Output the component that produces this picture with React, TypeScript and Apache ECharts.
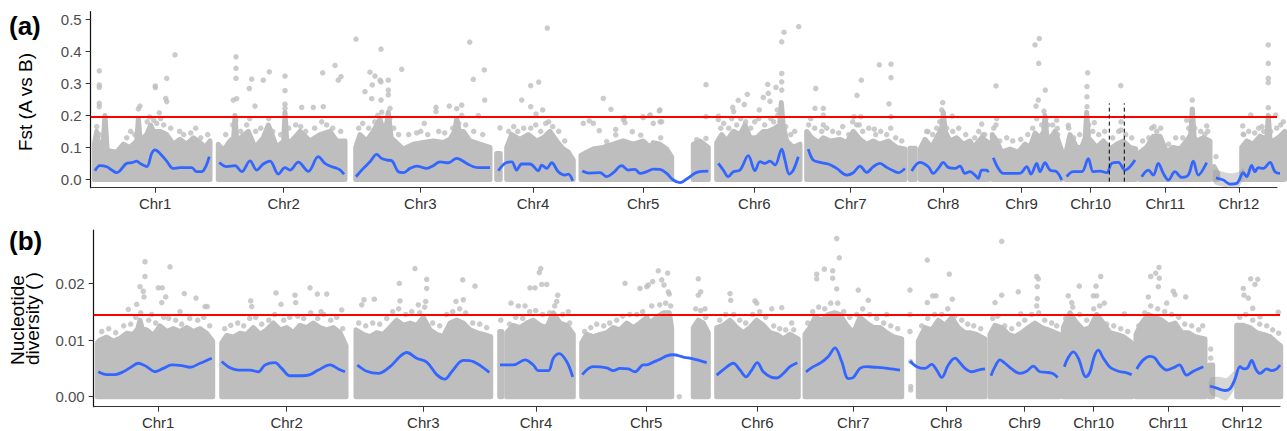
import React, { useEffect, useRef } from "react";
import * as echarts from "echarts";

// ---------- categories / ticks ----------
const chromosomes = ["Chr1", "Chr2", "Chr3", "Chr4", "Chr5", "Chr6", "Chr7", "Chr8", "Chr9", "Chr10", "Chr11", "Chr12"];
const chrMid = [64.5, 193, 329.6, 442.3, 552.5, 663.6, 759.6, 852.5, 930.8, 1000, 1074.6, 1148.3];
const fstTicks = [0, 0.1, 0.2, 0.3, 0.4, 0.5];
const piTicks = [0, 0.01, 0.02];
const fstThreshold = 0.1956;
const piThreshold = 0.01454;
const regionX = [1018.6, 1033.6];
const regionFst = [-0.007, 0.2375];

// ---------- (a) Fst: dense point clouds (upper edge of the solid part, per segment) ----------
const fstBands: number[][][] = [
  [[3.6,0.11],[6,0.15],[8,0.11],[12,0.09],[14.3,0.2],[16.5,0.09],[26,0.085],[32.7,0.11],[39.3,0.1],[46,0.12],[47.7,0.19],[49.5,0.12],[56,0.14],[60,0.17],[62.7,0.15],[69.3,0.15],[76,0.14],[82.7,0.11],[89.3,0.125],[96,0.11],[102.7,0.13],[109.3,0.115],[114.3,0.1],[119.3,0.12]],
  [[127.6,0.11],[132.6,0.09],[139.3,0.12],[143,0.13],[144.3,0.2],[146,0.12],[157.6,0.15],[164.3,0.1],[172.6,0.13],[177.6,0.17],[186,0.1],[193,0.12],[194.3,0.21],[196,0.12],[201,0.12],[209.3,0.15],[219.3,0.12],[229.3,0.14],[239.3,0.15],[246,0.12],[254.3,0.12]],
  [[265,0.1],[269.3,0.14],[276,0.12],[282.6,0.15],[289.3,0.19],[294.3,0.13],[297.6,0.21],[300.5,0.13],[312.6,0.095],[322.6,0.11],[332.6,0.115],[342.6,0.12],[352.6,0.115],[359.3,0.125],[364,0.15],[366,0.19],[368.5,0.15],[372.6,0.15],[379.3,0.12],[389.3,0.11],[399.3,0.1]],
  [[406,0.081],[409.5,0.081]],
  [[416,0.1],[421,0.14],[429.3,0.125],[437.6,0.14],[446,0.12],[452.6,0.13],[459.3,0.15],[466,0.12],[472.6,0.095],[477.6,0.085],[482.6,0.06]],
  [[490.3,0.075],[496,0.085],[502.6,0.095],[512.6,0.1],[522.6,0.11],[532.6,0.12],[542.6,0.11],[552.6,0.12],[559.3,0.1],[562.6,0.115],[569.3,0.11],[576,0.095],[581,0.07]],
  [[602.6,0.11],[609.3,0.12],[617.6,0.1]],
  [[626,0.115],[631,0.14],[636,0.12],[642.6,0.15],[649.3,0.14],[654.3,0.17],[659.3,0.13],[666,0.13],[672.6,0.15],[677.6,0.15],[684.3,0.16],[689,0.17],[690.6,0.24],[692.5,0.17],[696,0.12],[702.6,0.1],[709.3,0.11]],
  [[716,0.15],[721,0.13],[728,0.115],[732.6,0.13],[739.3,0.12],[749.3,0.125],[756,0.115],[762.6,0.15],[769.3,0.125],[776,0.11],[782.6,0.12],[789.3,0.11],[797.6,0.12],[806,0.1],[814.3,0.095]],
  [[819.3,0.097],[824.5,0.097]],
  [[829.5,0.095],[834.3,0.125],[841,0.1],[847.6,0.14],[851,0.16],[852.6,0.21],[854.5,0.15],[859.3,0.12],[866,0.13],[872.6,0.11],[879.3,0.12],[882.6,0.1],[891,0.13],[897.6,0.115]],
  [[901.6,0.14],[906,0.12],[911,0.085],[919.3,0.095],[927.6,0.085],[934.3,0.11],[939.3,0.1],[944.3,0.145],[949.3,0.13],[953,0.15],[954.3,0.2],[956,0.14],[959.3,0.125],[964.3,0.15],[971,0.09]],
  [[975.3,0.085],[979.3,0.14],[986,0.1],[991,0.1],[994.5,0.13],[996,0.21],[997.8,0.13],[1006,0.1],[1012.6,0.12],[1019.3,0.095],[1026,0.11],[1032.6,0.12],[1039.3,0.1],[1045,0.095]],
  [[1049.3,0.085],[1056,0.1],[1062.6,0.135],[1069.3,0.135],[1076,0.085],[1082.6,0.1],[1089.3,0.095],[1096,0.12],[1100,0.14],[1101.6,0.22],[1103.5,0.13],[1106,0.12],[1112.6,0.13],[1119.3,0.12]],
  [[1123.3,0.04],[1127,0.019]],
  [[1151,0.1],[1156,0.12],[1162.6,0.11],[1169.3,0.135],[1176,0.125],[1177.6,0.2],[1179.3,0.125],[1182.6,0.12],[1189.3,0.135],[1194,0.15]],
];

// scattered points just above the solid part
const fstScatter: number[][] = [
  [6,0.165],[9,0.14],[14.3,0.175],[36,0.13],[40,0.15],[44,0.14],[56.5,0.18],[59,0.195],[63,0.185],[66,0.175],[70,0.19],[73,0.17],[80,0.16],[89,0.15],[93,0.14],[100,0.145],[105,0.16],[110,0.13],[117,0.14],
  [135,0.14],[142,0.17],[145,0.185],[150,0.15],[156,0.17],[159,0.19],[165,0.15],[170,0.16],[178,0.19],[182,0.15],[190,0.14],[198,0.16],[205,0.17],[210,0.165],[215,0.15],[224,0.16],[231,0.18],[236,0.17],[242,0.16],[250,0.15],
  [268,0.16],[272,0.175],[278,0.16],[284,0.18],[287,0.2],[291,0.21],[295,0.17],[299,0.19],[303,0.16],[308,0.14],[318,0.14],[326,0.145],[330,0.15],[337,0.14],[348,0.15],[354,0.145],[362,0.16],[368,0.175],[371,0.2],[375,0.17],[383,0.15],[392,0.14],
  [418,0.15],[423,0.165],[427,0.15],[433,0.16],[440,0.16],[445,0.17],[450,0.15],[455,0.175],[458,0.18],[462,0.165],[468,0.15],[474,0.12],
  [492.6,0.175],[498.6,0.183],[502.6,0.175],[508.6,0.152],[516,0.118],[525,0.156],[525,0.139],[532.6,0.187],[534.3,0.177],[541.6,0.149],[550,0.138],[552.6,0.193],[559.3,0.2],[562.6,0.175],[568.6,0.214],[571,0.18],[570,0.13],[606,0.124],[615.3,0.128],
  [627.6,0.187],[630,0.16],[633,0.175],[638,0.16],[641,0.19],[646,0.17],[650,0.19],[655,0.18],[660,0.16],[664,0.18],[668,0.19],[674,0.17],[680,0.19],[683,0.18],[687,0.2],[690,0.21],[695,0.165],[700,0.14],[704,0.15],
  [718,0.17],[720,0.19],[724,0.16],[731,0.15],[736,0.16],[742,0.15],[748,0.145],[752,0.165],[758,0.14],[762,0.18],[766,0.17],[772,0.15],[778,0.16],[785,0.14],[790,0.15],[796,0.14],[800,0.16],[805,0.13],[811,0.12],
  [836,0.15],[842,0.14],[846,0.16],[849,0.18],[856,0.16],[862,0.15],[868,0.16],[875,0.14],[884,0.13],[888,0.15],[894,0.14],
  [903,0.16],[909,0.12],[916,0.13],[922,0.12],[930,0.125],[937,0.14],[942,0.16],[946,0.19],[951,0.17],[957,0.17],[962,0.17],[967,0.14],
  [978,0.16],[983,0.13],[989,0.14],[998,0.17],[1002,0.15],[1008,0.14],[1014,0.15],[1022,0.13],[1028,0.15],[1035,0.14],[1041,0.13],
  [1052,0.12],[1058,0.13],[1061,0.16],[1066,0.15],[1070,0.16],[1078,0.11],[1085,0.13],[1092,0.13],[1098,0.16],[1104,0.16],[1110,0.15],[1114,0.14],[1117,0.15],
  [1153,0.14],[1158,0.15],[1164,0.145],[1168,0.16],[1173,0.15],[1180,0.15],[1186,0.16],[1190,0.17],
];

const fstOutliers: number[][] = [
  [8.6,0.339],[8.6,0.295],[8.6,0.2875],[8.6,0.2375],[8.6,0.227],[84.3,0.389],[64.6,0.292],[64.6,0.287],[76,0.316],[75,0.253],[76,0.243],[49.3,0.229],[68.6,0.208],[47.7,0.22],
  [145.3,0.383],[145.3,0.347],[145.3,0.316],[142.6,0.248],[146,0.252],[161,0.313],[158.6,0.284],[164.3,0.229],[172.6,0.31],[178.6,0.336],[194.3,0.323],[194.3,0.277],[194.3,0.235],[194.3,0.222],[211,0.225],[222.6,0.225],[232,0.333],[232.6,0.227],[244.3,0.356],[247.6,0.31],[250.3,0.321],
  [265.3,0.4385],[274.3,0.274],[279.3,0.335],[281.6,0.295],[284.3,0.323],[290.3,0.407],[289.3,0.31],[290.3,0.305],[281,0.252],[297.6,0.31],[297.6,0.279],[297.6,0.264],[290.3,0.248],[299.3,0.222],[311,0.344],[333.6,0.175],[345.3,0.225],[345.3,0.212],[358.6,0.229],[366,0.221],[371,0.232],[379,0.429],[382.6,0.3125],[387.6,0.199],[393.6,0.342],[394,0.248],
  [409.3,0.161],[431,0.248],[440,0.293],[440,0.227],[448,0.304],[456.6,0.473],[452,0.217],[445.3,0.204],
  [512.6,0.253],[520.3,0.219],[533.6,0.193],[552,0.196],[559.3,0.201],[569.3,0.217],[569.3,0.18],[615.3,0.296],[615.3,0.196],
  [627.6,0.198],[642,0.225],[643,0.212],[647.6,0.247],[653.6,0.234],[656.6,0.266],[668.6,0.217],[672.6,0.256],[677,0.297],[677.6,0.269],[679.3,0.244],[685.3,0.2875],[686.6,0.217],[691,0.43],[693.3,0.46],[708,0.477],[691,0.331],[691,0.305],[691,0.279],
  [725,0.284],[724.3,0.222],[732.6,0.222],[732.6,0.201],[732.6,0.17],[766.3,0.2625],[770.6,0.31],[763.3,0.196],[770,0.196],[768.6,0.17],[783.6,0.157],[788.6,0.358],[800.3,0.36],[800.3,0.318],[798.3,0.236],[800.3,0.196],
  [852,0.24],[851,0.217],[837.3,0.149],[861.6,0.198],[891,0.173],[892,0.139],
  [905.3,0.292],[906,0.19],[905.3,0.17],[944.3,0.42],[948.6,0.44],[948,0.3625],[945.3,0.229],[947.6,0.248],[954.6,0.279],[953.3,0.2135],[955.3,0.19],[966,0.185],[966.6,0.159],
  [997,0.333],[996.3,0.29],[996.3,0.258],[996.3,0.227],[1003.6,0.177],[1030,0.293],[1030.3,0.18],[1030.3,0.154],[977.6,0.169],
  [1101.6,0.248],[1101.6,0.217],[1101.6,0.19],[1096,0.185],[1116,0.167],[1063.3,0.165],
  [1125.3,0.071],[1152,0.167],[1152.6,0.141],[1160,0.201],[1171.3,0.165],[1177.6,0.42],[1177.6,0.3625],[1177.6,0.316],[1177.6,0.302],[1177.6,0.224],[1185,0.201],[1192.6,0.18],
];

const fstSmooth: number[][][] = [
  [[4.3,0.027],[9.3,0.0427],[16,0.0396],[21,0.0292],[26,0.021],[29.3,0.0271],[36,0.05],[41,0.052],[46,0.057],[49.3,0.05],[56,0.04],[61,0.081],[64.3,0.092],[69.3,0.081],[76,0.057],[82.6,0.0344],[89.3,0.0365],[101,0.0365],[106,0.024],[111,0.024],[115.3,0.0417],[118.6,0.0708]],
  [[128.6,0.053],[136,0.04],[144.3,0.0427],[151,0.024],[159.3,0.058],[166,0.0292],[172.6,0.048],[179.3,0.057],[187.6,0.0167],[194.3,0.0365],[199.3,0.0292],[207.6,0.0542],[217.6,0.025],[227.6,0.0708],[234.3,0.05],[239.3,0.0417],[245,0.036],[249.3,0.03],[253.3,0.016]],
  [[265.3,0.0083],[272.6,0.0344],[279.3,0.055],[286,0.0781],[291,0.0656],[296,0.0604],[301,0.0583],[307.6,0.024],[312.6,0.021],[319.3,0.0344],[326,0.0417],[336,0.0344],[342.6,0.0427],[349.3,0.055],[357.6,0.052],[366,0.0656],[376,0.05],[382.6,0.0396],[389.3,0.0365],[399.3,0.0365]],
  [[407.6,0.027],[414.3,0.05],[421,0.055],[426,0.0292],[431,0.048],[439.3,0.048],[447.6,0.027],[451,0.0448],[456,0.0344],[461,0.052],[467.6,0.024],[474.3,0.0135],[477.6,0.0167],[482,-0.004]],
  [[491.6,0.026],[497.6,0.0198],[509.3,0.0208],[516,0.0083],[522.6,0.0208],[531,0.0427],[537.6,0.0292],[544.3,0.0313],[549.3,0.0188],[556,0.024],[562.6,0.0323],[569.3,0.031],[576,0.0188],[582.6,-0.002],[589.3,-0.0104],[596,0.001],[606,0.0219],[617.6,0.026]],
  [[627.6,0.05],[632.6,0.0292],[637.6,0.0083],[642.6,0.024],[649.3,0.0292],[657.6,0.074],[664.3,0.0271],[669.3,0.0552],[674.3,0.05],[679.3,0.0573],[684.3,0.0448],[691,0.0948],[694.3,0.06],[698.6,0.0167],[702.6,0.0292],[707.6,0.0708]],
  [[717.6,0.0948],[722.6,0.06],[729.3,0.0531],[737.6,0.048],[746,0.0344],[756,0.0135],[762.6,0.0208],[769.3,0.0417],[776,0.0219],[782.6,0.0396],[789.3,0.05],[796,0.0375],[802.6,0.0271],[807.6,0.0208],[814.3,0.0344]],
  [[821,0.026],[829.3,0.053],[837.6,0.0396],[842.6,0.0188],[847.6,0.0344],[852.6,0.053],[857.6,0.0375],[864.3,0.0344],[869.3,0.0417],[874.3,0.0188],[879.3,0.024],[884.3,0.0135],[887.6,0.003],[891,0.0292],[896,0.0292],[897.6,0.022]],
  [[902.6,0.0677],[907.6,0.0344],[912.6,0.0188],[919.3,0.0188],[929.3,0.0188],[936,0.0396],[940.3,0.0167],[946,0.05],[949.3,0.024],[954.3,0.052],[959.3,0.0292],[966,0.024],[971,-0.002]],
  [[976,0.0083],[982.6,0.024],[991,0.024],[997.6,0.0646],[1002.6,0.024],[1009.3,0.026],[1016,0.0208],[1021,0.0498],[1027.6,0.0531],[1034.3,0.0292],[1039.3,0.0396],[1044.3,0.0604]],
  [[1051,0.0083],[1057.6,0.0292],[1062.6,0.0135],[1067.6,0.05],[1072.6,0.0188],[1077.6,-0.002],[1084.3,0.024],[1091,0.0063],[1097.6,0.0135],[1102.6,0.0573],[1107.6,0.0135],[1116,0.052]],
  [[1125.3,0.005],[1132.6,-0.002],[1139.3,-0.0146],[1146,-0.0125],[1152.6,0.0208],[1156,0.0083],[1161,0.0438],[1164.3,0.024],[1167.6,0.0365],[1172.6,0.0344],[1179.3,0.0531],[1184.3,0.024],[1189.3,0.0188],[1192,0.0396],[1194,0.131]],
];
const fstCiUpper = [[1123.3,0.03],[1132,0.024],[1140,0.019],[1148,0.024],[1153,0.035]];
const fstCiLower = [[1123.3,-0.012],[1132,-0.022],[1140,-0.026],[1148,-0.024],[1153,0.008]];

// ---------- (b) nucleotide diversity ----------
const piBands: number[][][] = [
  [[3.6,0.0095],[6.3,0.01],[13,0.0105],[19.6,0.0098],[26.3,0.0103],[33,0.0112],[39.6,0.011],[44,0.012],[46.3,0.0135],[48.5,0.012],[53,0.0118],[59.6,0.0108],[66.3,0.0125],[73,0.0115],[79.6,0.012],[86.3,0.0115],[93,0.0122],[99.6,0.0115],[106.3,0.012],[113,0.0112],[119,0.0098]],
  [[128,0.0095],[133,0.0108],[139.6,0.0105],[146.3,0.0112],[153,0.011],[159.6,0.0122],[166.3,0.011],[173,0.0118],[179.6,0.013],[186.3,0.0118],[193,0.0122],[199.6,0.0113],[206.3,0.0126],[213,0.0122],[219.6,0.013],[226.3,0.0122],[233,0.0118],[239.6,0.0122],[246.3,0.0113],[252.3,0.009]],
  [[262.3,0.0118],[269.6,0.011],[276.3,0.0106],[283,0.0113],[289.6,0.011],[296.3,0.0122],[303,0.0135],[309.6,0.0126],[316.3,0.013],[323,0.0126],[329.6,0.014],[336.3,0.0118],[343,0.011],[349.6,0.0106],[356.3,0.013],[363,0.0135],[369.6,0.013],[376.3,0.0118],[383,0.0113],[389.6,0.011],[397,0.0106]],
  [[406,0.0115],[408,0.0115]],
  [[413,0.0113],[419.6,0.0126],[426.3,0.0122],[433,0.013],[439.6,0.0135],[446.3,0.0126],[453,0.0122],[459.6,0.0148],[466.3,0.013],[473,0.0126],[479.6,0.011]],
  [[488,0.0095],[493,0.011],[499.6,0.0106],[506.3,0.011],[513,0.0113],[519.6,0.0122],[526.3,0.0118],[533,0.013],[539.6,0.0122],[546.3,0.013],[553,0.014],[556.3,0.013],[563,0.014],[569.6,0.0148],[575.6,0.0148],[578,0.0122]],
  [[599.6,0.0122],[604.6,0.0135],[609.6,0.013],[614.6,0.0113]],
  [[623,0.0122],[629.6,0.0126],[636.3,0.0135],[643,0.0122],[649.6,0.0113],[656.3,0.0122],[663,0.0135],[669.6,0.0126],[676.3,0.0113],[683,0.011],[689.6,0.0102],[696.3,0.011],[704.6,0.0102]],
  [[711.3,0.011],[716.3,0.0122],[721.3,0.014],[728,0.0135],[734.6,0.0145],[741.3,0.0148],[746.3,0.0145],[753,0.0126],[759.6,0.0113],[766.3,0.014],[773,0.013],[779.6,0.0122],[786.3,0.0122],[793,0.0113],[799.6,0.0106],[808,0.0102]],
  [[824.6,0.0098],[831.3,0.0122],[838,0.0118],[844.6,0.0135],[851.3,0.0126],[858,0.014],[864.6,0.0122],[871.3,0.0113],[876.3,0.0113],[883,0.011],[891.3,0.0102]],
  [[896.3,0.011],[901.3,0.0126],[908,0.0122],[914.6,0.011],[921.3,0.0106],[928,0.0113],[934.6,0.0122],[941.3,0.013],[948,0.0122],[954.6,0.0118],[961.3,0.0113],[965.6,0.011]],
  [[969.6,0.0122],[976.3,0.0148],[983,0.013],[989.6,0.0118],[996.3,0.0122],[1003,0.0145],[1009.6,0.013],[1016.3,0.0113],[1023,0.011],[1029.6,0.0106],[1038,0.0095]],
  [[1042.3,0.011],[1048,0.013],[1054.6,0.0145],[1061.3,0.014],[1068,0.0135],[1074.6,0.0126],[1081.3,0.013],[1088,0.0113],[1094.6,0.0113],[1101.3,0.0106],[1111.3,0.0102]],
  [[1115.6,0.0056],[1119,0.0056]],
  [[1143,0.0126],[1149.6,0.0126],[1156.3,0.0122],[1163,0.0113],[1169.6,0.011],[1176.3,0.0106],[1183,0.0095],[1187,0.009]],
];

const piScatter: number[][] = [
  [8,0.0115],[15,0.012],[22,0.0113],[30,0.0125],[37,0.0128],[42,0.014],[47,0.0148],[55,0.0135],[58,0.0145],[62,0.013],[70,0.014],[75,0.0138],[82,0.0135],[88,0.0128],[96,0.0138],[104,0.0135],[110,0.014],[116,0.0125],
  [131,0.012],[137,0.0126],[144,0.013],[150,0.0125],[156,0.0138],[162,0.014],[168,0.0128],[175,0.0135],[181,0.0145],[190,0.0135],[196,0.014],[204,0.0142],[210,0.0138],[217,0.0148],[224,0.0138],[230,0.0145],[237,0.0135],[243,0.014],[249,0.012],
  [265,0.013],[272,0.0125],[279,0.013],[286,0.0128],[293,0.0138],[299,0.015],[305,0.0155],[312,0.0145],[318,0.015],[326,0.0148],[331,0.0158],[339,0.013],[346,0.0125],[353,0.0145],[359,0.015],[366,0.0155],[372,0.0148],[379,0.013],[386,0.0128],[393,0.0122],
  [407,0.0135],[416,0.0128],[422,0.014],[429,0.0138],[436,0.015],[442,0.0152],[449,0.0145],[456,0.0148],[461,0.016],[463,0.0168],[469,0.0145],[476,0.013],
  [491,0.0115],[497,0.0122],[503,0.0128],[510,0.0125],[516,0.013],[523,0.0135],[529,0.0142],[536,0.0145],[543,0.0145],[549,0.015],[558,0.016],[566,0.0162],[572,0.0165],[577,0.016],[602,0.0155],[607,0.0152],[612,0.014],
  [626,0.0135],[632,0.0145],[640,0.0145],[646,0.0135],[652,0.013],[659,0.0145],[666,0.015],[672,0.014],[680,0.0125],[686,0.012],[692,0.0118],[700,0.0118],
  [714,0.013],[719,0.015],[725,0.0158],[731,0.0155],[737,0.0165],[744,0.0165],[750,0.015],[756,0.014],[763,0.0145],[769,0.0155],[776,0.0145],[783,0.0138],[790,0.013],[797,0.0125],[804,0.012],
  [828,0.0125],[834,0.0138],[841,0.0145],[848,0.0145],[854,0.0155],[861,0.0142],[868,0.0135],[874,0.0128],[880,0.0125],[887,0.012],
  [899,0.0138],[904,0.0142],[911,0.0125],[918,0.012],[925,0.0128],[931,0.0135],[938,0.0145],[945,0.0148],[951,0.0135],[958,0.013],[963,0.0125],
  [972,0.0138],[979,0.0158],[986,0.0145],[993,0.0135],[1000,0.0155],[1006,0.016],[1013,0.0128],[1020,0.0125],[1027,0.012],[1034,0.0115],
  [1045,0.0125],[1051,0.0148],[1057,0.016],[1064,0.0155],[1071,0.015],[1078,0.0145],[1085,0.014],[1091,0.0128],[1098,0.0125],[1105,0.0118],[1109,0.0125],
  [1146,0.014],[1152,0.0145],[1159,0.0135],[1166,0.0128],[1173,0.0125],[1179,0.0118],[1185,0.0112],
];

const piOutliers: number[][] = [
  [51.3,0.0238],[51.3,0.0212],[46.3,0.0194],[49.6,0.0186],[50.3,0.0176],[76.3,0.0229],[64.6,0.0192],[68.6,0.0192],[68,0.0166],[72,0.0176],[90.6,0.0182],[102.3,0.0174],[43,0.0163],[34.6,0.0154],[86.3,0.015],[111.3,0.0159],[113.6,0.0159],
  [157,0.0169],[158,0.0159],[182.3,0.0183],[187.3,0.0163],[201.3,0.0179],[202,0.0166],[216.3,0.0192],[223.6,0.0181],[233,0.0181],[227.3,0.015],[248,0.0153],
  [321.3,0.0226],[333,0.0207],[333,0.0191],[305.6,0.02],[306.3,0.0169],[280.6,0.0172],[268,0.0162],[270.3,0.0171],[324.6,0.0162],[369,0.0206],[381.3,0.0195],[369.6,0.0171],[362.3,0.0168],[332,0.0168],
  [447,0.0226],[445.6,0.0219],[436.3,0.0192],[441.3,0.0192],[448,0.0198],[453,0.0198],[417.3,0.0165],[424.6,0.016],[431.3,0.016],[464,0.0179],[474.6,0.015],
  [564.6,0.0222],[574,0.0218],[568,0.0206],[570.3,0.0197],[559,0.0203],[553,0.0194],[574.6,0.0185],[575.6,0.0181],[585.6,0.0],[604.6,0.0208],[607,0.0185],[604.6,0.0179],[611.3,0.0155],[531.3,0.02],[546.3,0.0191],[554.6,0.0197],
  [636.3,0.0182],[637,0.017],[661.3,0.0169],[663,0.0165],[678,0.0155],[688,0.0157],[698,0.013],
  [743,0.0279],[745.6,0.0245],[730.6,0.0225],[723,0.0216],[723,0.0208],[739,0.0222],[739,0.0209],[743,0.019],[764.6,0.0188],[774.6,0.017],[793,0.0145],
  [816.3,0.0188],[816.3,0.0145],[816.3,0.0115],[817,0.0062],[817,0.0018],[817,0.0012],[833.6,0.0241],[855.6,0.0216],[839,0.0178],[842.3,0.0178],[833.6,0.0166],[858.6,0.0172],
  [908,0.0274],[908,0.0179],[901.3,0.0166],[924.6,0.0185],[943,0.0212],[944.6,0.0208],[943.6,0.0194],[943.6,0.0173],[927,0.0146],[943,0.016],
  [1007,0.0212],[1002.3,0.0195],[985.6,0.0195],[974.6,0.0178],[978,0.0166],[1010.6,0.0165],[1030.6,0.0146],[1003,0.0178],[999.6,0.0178],
  [1065.3,0.0228],[1057,0.0212],[1062,0.0218],[1065.6,0.0209],[1064.6,0.0194],[1079.6,0.0186],[1081.3,0.018],[1092,0.0176],[1054.6,0.0176],[1073,0.0165],
  [1117,0.0084],[1117,0.0068],[1149.6,0.0191],[1150.3,0.0179],[1157,0.0208],[1161.3,0.0198],[1164,0.0207],[1154.6,0.0174],[1159,0.0156],[1184.6,0.0149],[1166.3,0.0141],
];

const piSmooth: number[][][] = [
  [[4.6,0.0044],[13,0.0039],[21.3,0.0039],[29.6,0.0044],[38,0.0053],[44.6,0.0059],[53,0.0053],[61.3,0.0044],[69.6,0.005],[78,0.0056],[88,0.0055],[96.3,0.0052],[106.3,0.0059],[118,0.0068]],
  [[128,0.0062],[136.3,0.0051],[144.6,0.0047],[156.3,0.0047],[164.6,0.0044],[171.3,0.0056],[181.3,0.006],[188,0.005],[196.3,0.0037],[208,0.0037],[216.3,0.0039],[224.6,0.0047],[236.3,0.0056],[244.6,0.0049],[251.3,0.0044]],
  [[263.6,0.0056],[273,0.0045],[284.6,0.0041],[296.3,0.0053],[306.3,0.0071],[313,0.0078],[323,0.0068],[333,0.0061],[343,0.0039],[351.3,0.0031],[358,0.0044],[369.6,0.0064],[379.6,0.0062],[388,0.0053],[395.6,0.0043]],
  [[406.3,0.0056],[419.6,0.0056],[431.3,0.0065],[439.6,0.0056],[444.6,0.0046],[454.6,0.0046],[459.6,0.0068],[465.6,0.0076],[473,0.0062],[479,0.0035]],
  [[488.6,0.0039],[499.6,0.0053],[513,0.0051],[519.6,0.0046],[526.3,0.005],[534.6,0.0049],[541.3,0.0044],[549.6,0.0056],[553,0.0056],[559.6,0.0061],[566.3,0.0066],[573,0.0072],[579.6,0.0074],[589.6,0.007],[601.3,0.0066],[613,0.006]],
  [[623,0.0038],[631.3,0.005],[639.6,0.0059],[646.3,0.0047],[652.3,0.0035],[658,0.0047],[663.6,0.006],[669.6,0.0044],[678,0.0034],[683,0.0033],[689.6,0.0041],[696.3,0.0053],[703.6,0.006]],
  [[712.3,0.0044],[719.6,0.0053],[728,0.0061],[734.6,0.0071],[741.3,0.0086],[748,0.0062],[754.6,0.0032],[759.6,0.0034],[766.3,0.005],[773,0.0053],[781.3,0.0052],[789.6,0.0051],[798,0.0049],[806.3,0.0047]],
  [[816.3,0.0063],[823,0.0053],[831.3,0.005],[838,0.0057],[843,0.0047],[848,0.0034],[854.6,0.0056],[861.3,0.0068],[866.3,0.006],[871.3,0.005],[878,0.0044],[884.6,0.0047],[891.3,0.0049]],
  [[897.3,0.0037],[901.3,0.0053],[906.3,0.0065],[911.3,0.0059],[918,0.0049],[926.3,0.0041],[933,0.0045],[939.6,0.0054],[946.3,0.0044],[953,0.0043],[959,0.0041],[964,0.0034]],
  [[970.6,0.0053],[974.6,0.0069],[979.6,0.0079],[984.6,0.0068],[992.3,0.0035],[996.3,0.0044],[1000.6,0.0071],[1004.6,0.0082],[1009.6,0.0068],[1016.3,0.0052],[1024.6,0.0045],[1033,0.0042],[1038,0.0039]],
  [[1043,0.0049],[1049.6,0.0065],[1056.3,0.0071],[1061.3,0.0068],[1066.3,0.0056],[1073,0.0047],[1079.6,0.0051],[1085.6,0.0056],[1093,0.0038],[1099.6,0.0045],[1109.6,0.0053]],
  [[1116.3,0.0019],[1123,0.0015],[1131.3,0.0011],[1136.3,0.0014],[1141.3,0.0031],[1146.3,0.0053],[1150.3,0.0049],[1154,0.0051],[1158,0.0064],[1162.3,0.0048],[1166.3,0.0041],[1173,0.0049],[1178,0.0046],[1183,0.0049],[1186.3,0.0056]],
];
const piCiUpper = [[1116.3,0.0032],[1125,0.0035],[1133,0.0033],[1141,0.0045]];
const piCiLower = [[1116.3,0.0006],[1125,-0.0002],[1133,-0.0006],[1141,0.0017]];

// ---------- styles ----------
const GREY = "#BEBEBE";
const BLUE = "#3366FF";
const FONT = "Liberation Sans, Arial, sans-serif";
const X_MAX = 1186.3;

function bandSeries(segs: number[][][], idx: number) {
  return {
    type: "custom",
    xAxisIndex: idx,
    yAxisIndex: idx,
    z: 1,
    silent: true,
    clip: false,
    data: segs.map((s, i) => [s[0][0], 0, i]),
    encode: { x: 0, y: 1 },
    renderItem: (_p: any, api: any) => {
      const seg = segs[api.value(2)];
      const pts = [
        api.coord([seg[0][0], 0]),
        ...seg.map((p) => api.coord(p)),
        api.coord([seg[seg.length - 1][0], 0]),
      ];
      return {
        type: "polygon",
        shape: { points: pts },
        style: { fill: GREY, stroke: GREY, lineWidth: 5, lineJoin: "round" },
      };
    },
  };
}

function ribbonSeries(upper: number[][], lower: number[][], idx: number) {
  return {
    type: "custom",
    xAxisIndex: idx,
    yAxisIndex: idx,
    z: 3,
    silent: true,
    clip: false,
    data: [[upper[0][0], upper[0][1]]],
    encode: { x: 0, y: 1 },
    renderItem: (_p: any, api: any) => {
      const pts = [...upper.map((p) => api.coord(p)), ...lower.slice().reverse().map((p) => api.coord(p))];
      return {
        type: "polygon",
        shape: { points: pts, smooth: 0.3 },
        style: { fill: "rgba(153,153,153,0.4)" },
      };
    },
  };
}

function pointSeries(pts: number[][], idx: number, thr?: number) {
  const s: any = {
    type: "scatter",
    xAxisIndex: idx,
    yAxisIndex: idx,
    z: 2,
    silent: true,
    clip: false,
    symbolSize: 5.5,
    itemStyle: { color: GREY },
    data: pts,
  };
  if (thr !== undefined) {
    s.markLine = {
      silent: true,
      precision: 6,
      symbol: ["none", "none"],
      label: { show: false },
      lineStyle: { color: "#FF0000", width: 2, type: "solid" },
      data: [{ yAxis: thr }],
    };
  }
  return s;
}

function smoothSeries(lines: number[][][], idx: number) {
  return lines.map((d) => ({
    type: "line",
    xAxisIndex: idx,
    yAxisIndex: idx,
    z: 4,
    silent: true,
    clip: false,
    smooth: 0.35,
    showSymbol: false,
    lineStyle: { color: BLUE, width: 2.8 },
    data: d,
  }));
}

function xAxis(gridIndex: number) {
  return {
    type: "value",
    gridIndex,
    min: 0,
    max: X_MAX,
    splitLine: { show: false },
    axisLine: { show: true, onZero: false, lineStyle: { color: "#333", width: 1.2 } },
    axisTick: { show: true, length: 5, customValues: chrMid, lineStyle: { color: "#333" } },
    axisLabel: {
      customValues: chrMid,
      margin: 8,
      fontSize: 15,
      fontFamily: FONT,
      color: "#333",
      formatter: (v: number) => {
        let best = 0;
        chrMid.forEach((m, i) => {
          if (Math.abs(m - v) < Math.abs(chrMid[best] - v)) best = i;
        });
        return chromosomes[best];
      },
    },
  };
}

function yAxis(gridIndex: number, min: number, max: number, ticks: number[], digits: number) {
  return {
    type: "value",
    gridIndex,
    min,
    max,
    splitLine: { show: false },
    axisLine: { show: true, onZero: false, lineStyle: { color: "#111", width: 1.2 } },
    axisTick: { show: true, length: 5, customValues: ticks, lineStyle: { color: "#333" } },
    axisLabel: {
      customValues: ticks,
      margin: 9,
      fontSize: 15,
      fontFamily: FONT,
      color: "#4D4D4D",
      formatter: (v: number) => v.toFixed(digits),
    },
  };
}

export default function App() {
  const ref = useRef<HTMLDivElement>(null);
  useEffect(() => {
    if (!ref.current) return;
    const chart = echarts.init(ref.current, undefined, { renderer: "svg" });
    const option: any = {
      animation: false,
      grid: [
        { left: 90.7, top: 11.7, width: X_MAX, height: 176 },
        { left: 93.7, top: 230, width: X_MAX, height: 176.7 },
      ],
      xAxis: [xAxis(0), xAxis(1)],
      yAxis: [yAxis(0, -0.026, 0.524, fstTicks, 1), yAxis(1, -0.00176, 0.0294, piTicks, 2)],
      graphic: [
        { type: "text", x: 9, y: 26, style: { text: "(a)", fontSize: 26, fontWeight: "bold", fontFamily: FONT, fill: "#000", textVerticalAlign: "middle" } },
        { type: "text", x: 9, y: 241, style: { text: "(b)", fontSize: 26, fontWeight: "bold", fontFamily: FONT, fill: "#000", textVerticalAlign: "middle" } },
        { type: "text", x: 25.5, y: 102, rotation: Math.PI / 2, style: { text: "Fst (A vs B)", fontSize: 19, fontFamily: FONT, fill: "#000", textAlign: "center", textVerticalAlign: "middle" } },
        { type: "text", x: 17.5, y: 365, rotation: Math.PI / 2, style: { text: "Nucleotide", fontSize: 19, fontFamily: FONT, fill: "#000", textAlign: "left", textVerticalAlign: "middle" } },
        { type: "text", x: 32.5, y: 365, rotation: Math.PI / 2, style: { text: "diversity ( )", fontSize: 19, fontFamily: FONT, fill: "#000", textAlign: "left", textVerticalAlign: "middle" } },
      ],
      series: [
        bandSeries(fstBands, 0),
        pointSeries(fstScatter, 0),
        pointSeries(fstOutliers, 0, fstThreshold),
        ribbonSeries(fstCiUpper, fstCiLower, 0),
        ...smoothSeries(fstSmooth, 0),
        ...regionX.map((x) => ({
          type: "line",
          xAxisIndex: 0,
          yAxisIndex: 0,
          z: 6,
          silent: true,
          showSymbol: false,
          lineStyle: { color: "#000", width: 1, type: [4, 3] },
          data: [[x, regionFst[0]], [x, regionFst[1]]],
        })),
        bandSeries(piBands, 1),
        pointSeries(piScatter, 1),
        pointSeries(piOutliers, 1, piThreshold),
        ribbonSeries(piCiUpper, piCiLower, 1),
        ...smoothSeries(piSmooth, 1),
      ],
    };
    chart.setOption(option);
    return () => chart.dispose();
  }, []);
  return <div ref={ref} style={{ position: "absolute", left: 0, top: 0, width: 1287, height: 431 }} />;
}
